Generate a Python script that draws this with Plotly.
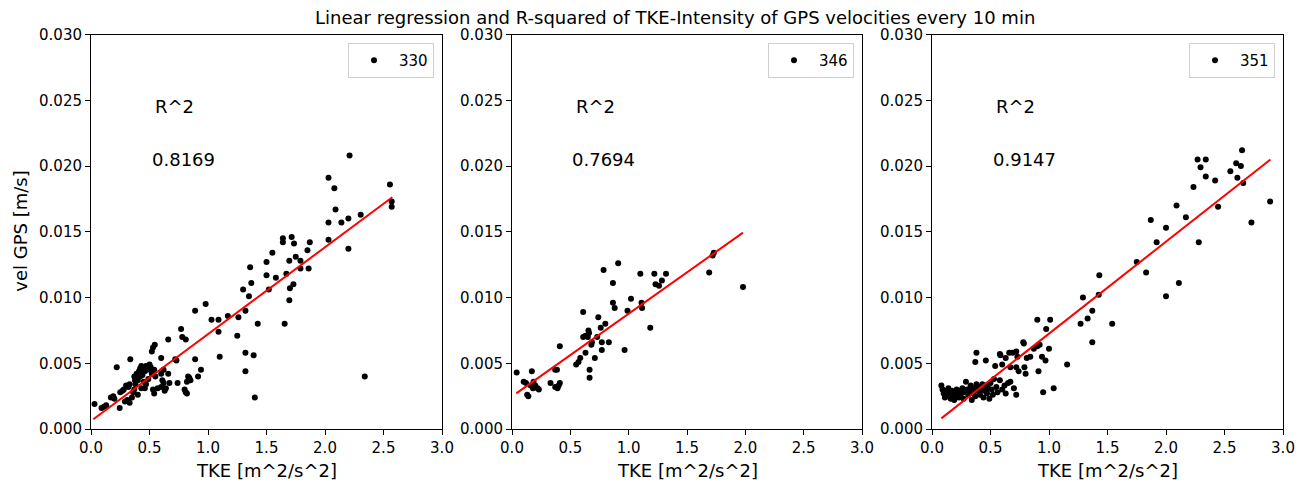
import plotly.graph_objects as go

# ---------------- data ----------------
tke_330 = [0.03, 0.09, 0.11, 0.13, 0.17, 0.19, 0.20, 0.22, 0.245, 0.25, 0.27, 0.28, 0.30, 0.32, 0.33,
           0.31, 0.33, 0.35, 0.336, 0.29, 0.36,
           0.37, 0.38, 0.40, 0.37, 0.39, 0.41, 0.42, 0.43, 0.42, 0.44, 0.46, 0.45, 0.47, 0.48, 0.50,
           0.51, 0.52, 0.54, 0.40, 0.43, 0.47, 0.49, 0.52, 0.53, 0.545, 0.53, 0.54, 0.57, 0.60, 0.62,
           0.63, 0.61, 0.64, 0.67, 0.74, 0.66, 0.81, 0.72, 0.73, 0.66, 0.60, 0.78, 0.77, 0.82, 0.84,
           0.85, 0.83, 0.80, 0.81, 0.82, 0.89, 0.915, 0.94, 0.89, 0.98, 1.03, 1.09, 1.09, 1.10, 1.17,
           1.25, 1.26, 1.30, 1.32, 1.32, 1.32, 1.35, 1.37, 1.36, 1.39, 1.40, 1.425, 1.50, 1.50, 1.52,
           1.55, 1.58, 1.64, 1.64, 1.655, 1.67, 1.695, 1.695, 1.70, 1.715, 1.73, 1.735, 1.75, 1.79,
           1.79, 1.85, 1.86, 1.87, 2.03, 2.03, 2.03, 2.08, 2.09, 2.14, 2.20, 2.20, 2.21, 2.305, 2.34,
           2.555, 2.57, 2.57, 0.55, 0.60, 0.62, 0.46, 0.376, 0.43, 0.52]
vel_330 = [0.0019, 0.0016, 0.0017, 0.0018, 0.0024, 0.0025, 0.0023, 0.0047, 0.0016, 0.0028, 0.0029, 0.0030,
           0.0033, 0.0032, 0.0034, 0.0022, 0.0020, 0.0024, 0.0053, 0.0021, 0.0028,
           0.0030, 0.0034, 0.0037, 0.0040, 0.0042, 0.0044, 0.0046, 0.0048, 0.0040, 0.0041, 0.0044,
           0.0036, 0.0048, 0.0045, 0.0049, 0.0047, 0.0043, 0.0045, 0.0026, 0.0031, 0.0034, 0.0038,
           0.0059, 0.0062, 0.0064, 0.0030, 0.0027, 0.0031, 0.0032, 0.0035, 0.0029, 0.0037, 0.0031,
           0.0035, 0.0035, 0.0068, 0.0068, 0.0053, 0.0052, 0.0042, 0.0054, 0.0070, 0.0076, 0.0036,
           0.0039, 0.0037, 0.0040, 0.0030, 0.0028, 0.0027, 0.0053, 0.0040, 0.0045, 0.0090, 0.0095,
           0.0083, 0.0083, 0.0074, 0.0055, 0.0086, 0.0071, 0.0085, 0.0106, 0.0090, 0.0058, 0.0044,
           0.0101, 0.0111, 0.0123, 0.0056, 0.0024, 0.0080, 0.0127, 0.0117, 0.0106, 0.0134, 0.0115,
           0.0145, 0.0142, 0.0080, 0.0118, 0.0128, 0.0098, 0.0107, 0.0146, 0.0110, 0.0141, 0.0131,
           0.0128, 0.0122, 0.0136, 0.0122, 0.0142, 0.0144, 0.0157, 0.0191, 0.0183, 0.0167, 0.0157,
           0.0160, 0.0137, 0.0208, 0.0163, 0.0040, 0.0186, 0.0173, 0.0169, 0.0040, 0.0042, 0.0045,
           0.0031, 0.0037, 0.0045, 0.0042]

tke_346 = [0.04, 0.10, 0.12, 0.13, 0.14, 0.17, 0.16, 0.18, 0.185, 0.20, 0.22, 0.23, 0.33, 0.37, 0.385,
           0.37, 0.39, 0.40, 0.41, 0.41, 0.55, 0.57, 0.585, 0.63, 0.665, 0.665, 0.71, 0.61, 0.63, 0.65,
           0.655, 0.66, 0.61, 0.685, 0.68, 0.74, 0.73, 0.76, 0.77, 0.77, 0.80, 0.83, 0.785, 0.91, 0.865,
           0.865, 0.88, 0.965, 0.99, 1.02, 1.10, 1.11, 1.115, 1.185, 1.22, 1.23, 1.26, 1.285, 1.32,
           1.69, 1.73, 1.72, 1.98]
vel_346 = [0.0043, 0.0036, 0.0035, 0.0026, 0.0025, 0.0044, 0.0033, 0.0031, 0.0036, 0.0033, 0.0031, 0.0030,
           0.0035, 0.0045, 0.0045, 0.0032, 0.0031, 0.0033, 0.0035, 0.0063, 0.0049, 0.0051, 0.0054,
           0.0058, 0.0045, 0.0039, 0.0054, 0.0070, 0.0071, 0.0070, 0.0075, 0.0073, 0.0089, 0.0066,
           0.0064, 0.0085, 0.0070, 0.0077, 0.0066, 0.0060, 0.0080, 0.0066, 0.0121, 0.0126, 0.0111,
           0.0096, 0.0092, 0.0060, 0.0090, 0.0099, 0.0118, 0.0096, 0.0092, 0.0077, 0.0118, 0.0110,
           0.0109, 0.0113, 0.0118, 0.0119, 0.0134, 0.0132, 0.0108]

tke_351 = [0.08, 0.09, 0.10, 0.11, 0.12, 0.13, 0.14, 0.15, 0.16, 0.17, 0.18, 0.19, 0.20, 0.21, 0.22,
           0.23, 0.24, 0.25, 0.26, 0.27, 0.28, 0.29, 0.30, 0.31, 0.32, 0.33, 0.34, 0.35, 0.36, 0.37,
           0.38, 0.39, 0.40, 0.41, 0.42, 0.43, 0.44, 0.45, 0.46, 0.47, 0.48, 0.49, 0.50, 0.51, 0.52,
           0.53, 0.55, 0.56, 0.58, 0.60, 0.62, 0.63, 0.65, 0.67, 0.72, 0.70,
           0.37, 0.38, 0.46, 0.54, 0.58, 0.585, 0.60, 0.63, 0.66, 0.67, 0.69, 0.72, 0.73, 0.72, 0.74,
           0.78, 0.785, 0.79, 0.80, 0.81, 0.84, 0.87, 0.90, 0.92, 0.94, 0.97, 0.91, 0.90, 0.976, 1.01,
           1.00, 0.95, 1.04, 1.155, 1.27, 1.29, 1.33, 1.37, 1.37, 1.425, 1.43, 1.54,
           1.75, 1.83, 1.87, 1.92, 2.00, 2.00, 2.09, 2.11, 2.17, 2.235, 2.28, 2.27, 2.295, 2.34, 2.34,
           2.42, 2.445, 2.55, 2.60, 2.64, 2.61, 2.65, 2.66, 2.73, 2.89]
vel_351 = [0.0033, 0.0030, 0.0027, 0.0024, 0.0029, 0.0025, 0.0031, 0.0027, 0.0023, 0.0029, 0.0026, 0.0022,
           0.0028, 0.0030, 0.0025, 0.0024, 0.0029, 0.0027, 0.0031, 0.0023, 0.0028, 0.0036, 0.0030,
           0.0026, 0.0029, 0.0033, 0.0022, 0.0027, 0.0031, 0.0025, 0.0034, 0.0029, 0.0032, 0.0026,
           0.0030, 0.0034, 0.0024, 0.0029, 0.0033, 0.0027, 0.0031, 0.0023, 0.0035, 0.0030, 0.0026,
           0.0038, 0.0032, 0.0028, 0.0037, 0.0030, 0.0033, 0.0027, 0.0035, 0.0036, 0.0026, 0.0031,
           0.0051, 0.0058, 0.0052, 0.0048, 0.0057, 0.0056, 0.0049, 0.0054, 0.0058, 0.0047, 0.0058,
           0.0059, 0.0055, 0.0047, 0.0044, 0.0066, 0.0065, 0.0047, 0.0042, 0.0054, 0.0055, 0.0061,
           0.0063, 0.0064, 0.0055, 0.0052, 0.0044, 0.0083, 0.0076, 0.0083, 0.0061, 0.0028, 0.0031,
           0.0049, 0.0080, 0.0100, 0.0084, 0.0090, 0.0066, 0.0102, 0.0117, 0.0080,
           0.0127, 0.0119, 0.0159, 0.0142, 0.0153, 0.0101, 0.0170, 0.0111, 0.0161, 0.0184, 0.0142,
           0.0205, 0.0199, 0.0205, 0.0192, 0.0189, 0.0169, 0.0196, 0.0202, 0.0200, 0.0191, 0.0212,
           0.0187, 0.0157, 0.0173]

# regression line end points
fit_x_330 = [0.02, 2.575]
fit_y_330 = [0.00074, 0.01762]
fit_x_346 = [0.037, 1.98]
fit_y_346 = [0.00271, 0.01493]
fit_x_351 = [0.08, 2.893]
fit_y_351 = [0.00081, 0.0205]

labels = ["330", "346", "351"]
r2_values = ["0.8169", "0.7694", "0.9147"]
x_ticks = [0.0, 0.5, 1.0, 1.5, 2.0, 2.5, 3.0]
y_ticks = [0.000, 0.005, 0.010, 0.015, 0.020, 0.025, 0.030]
title_text = "Linear regression and R-squared of TKE-Intensity of GPS velocities every 10 min"
x_label = "TKE [m^2/s^2]"
y_label = "vel GPS [m/s]"

# ---------------- layout ----------------
W, H = 1306, 483
FONT = "DejaVu Sans"
SMALL, LARGE = 15, 18
px_left = [91, 512, 932]
px_right = [442, 862, 1283]
py_top, py_bottom = 34.5, 429

def px2x(p):
    return p / W

def py2y(p):
    return (H - p) / H

series = [(tke_330, vel_330, fit_x_330, fit_y_330),
          (tke_346, vel_346, fit_x_346, fit_y_346),
          (tke_351, vel_351, fit_x_351, fit_y_351)]

fig = go.Figure()
annotations = []
layout = dict(
    width=W, height=H,
    margin=dict(l=0, r=0, t=0, b=0),
    paper_bgcolor="white", plot_bgcolor="white",
    font=dict(family=FONT, size=SMALL, color="black"),
    showlegend=True,
)

for i, (xs, ys, fx, fy) in enumerate(series):
    n = "" if i == 0 else str(i + 1)
    xa, ya = "x" + n, "y" + n
    leg = "legend" + n
    fig.add_trace(go.Scatter(x=xs, y=ys, mode="markers", name=labels[i],
                             marker=dict(color="black", size=6),
                             xaxis=xa, yaxis=ya, legend=leg))
    fig.add_trace(go.Scatter(x=fx, y=fy, mode="lines", showlegend=False,
                             line=dict(color="red", width=2),
                             xaxis=xa, yaxis=ya))
    axis_common = dict(showline=True, linecolor="black", linewidth=1, mirror=True,
                       ticks="outside", ticklen=5, tickcolor="black", tickwidth=1,
                       showgrid=False, zeroline=False, automargin=False,
                       tickfont=dict(family=FONT, size=SMALL, color="black"))
    layout["xaxis" + n] = dict(axis_common, domain=[px2x(px_left[i]), px2x(px_right[i])],
                               range=[0, 3.0], tickvals=x_ticks, tickformat=".1f",
                               anchor=ya)
    layout["yaxis" + n] = dict(axis_common, domain=[py2y(py_bottom), py2y(py_top)],
                               range=[0, 0.030], tickvals=y_ticks, tickformat=".3f",
                               anchor=xa)
    layout[leg] = dict(x=px2x(px_right[i] - 8), y=py2y(py_top + 8.5),
                       xanchor="right", yanchor="top",
                       bordercolor="#d0d0d0", borderwidth=1, bgcolor="white",
                       font=dict(family=FONT, size=SMALL, color="black"),
                       itemsizing="trace", itemwidth=40)
    annotations.append(dict(x=0.53, y=0.0245, xref=xa, yref=ya, text="R^2",
                            showarrow=False, xanchor="left", yanchor="middle",
                            font=dict(family=FONT, size=LARGE, color="black")))
    annotations.append(dict(x=0.50, y=0.0205, xref=xa, yref=ya, text=r2_values[i],
                            showarrow=False, xanchor="left", yanchor="middle",
                            font=dict(family=FONT, size=LARGE, color="black")))
    annotations.append(dict(x=px2x((px_left[i] + px_right[i]) / 2), y=py2y(470),
                            xref="paper", yref="paper", text=x_label, showarrow=False,
                            xanchor="center", yanchor="middle",
                            font=dict(family=FONT, size=LARGE, color="black")))

annotations.append(dict(x=px2x(21), y=py2y((py_top + py_bottom) / 2), xref="paper", yref="paper",
                        text=y_label, showarrow=False, textangle=-90,
                        xanchor="center", yanchor="middle",
                        font=dict(family=FONT, size=LARGE, color="black")))
annotations.append(dict(x=px2x(675), y=py2y(18), xref="paper", yref="paper",
                        text=title_text, showarrow=False, xanchor="center", yanchor="middle",
                        borderpad=0,
                        font=dict(family=FONT, size=LARGE, color="black")))
layout["annotations"] = annotations
fig.update_layout(**layout)
# remove the page's default 8 px body margin so the figure fills the window exactly
fig.write_html("out.html",
               config={"displayModeBar": False},
               post_script="document.body.style.margin='0';document.body.style.overflow='hidden';")
